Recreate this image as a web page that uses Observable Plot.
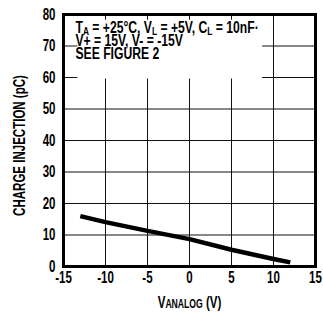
<!DOCTYPE html>
<html><head><meta charset="utf-8">
<script src="https://cdn.jsdelivr.net/npm/d3@7"></script>
<script src="https://cdn.jsdelivr.net/npm/@observablehq/plot@0.6"></script>
<style>
body{margin:0;background:#fff}
#chart svg{font-family:"Liberation Sans",Arial,sans-serif;font-weight:bold;overflow:visible}
</style>
</head><body><div id="chart"></div>
<script>
const vAnalog = [-13, -10, -5, 0, 5, 10, 12];
const chargeInjection = [16, 14.1, 11.3, 8.7, 5.3, 2.4, 1.3];
const xTicks = [-15, -10, -5, 0, 5, 10, 15];
const yTicks = [0, 10, 20, 30, 40, 50, 60, 70, 80];
const noteLines = ["TA = +25°C, VL = +5V, CL = 10nF·", "V+ = 15V, V- = -15V", "SEE FIGURE 2"];
const noteBox = [{x1: -13.3, x2: 8.7, y1: 59.5, y2: 78.2}];
const xLabel = "VANALOG (V)";
const yLabel = "CHARGE INJECTION (pC)";

const data = vAnalog.map((x, i) => ({x, y: chargeInjection[i]}));
const fmt = d => String(d);
const noteText = noteLines.join("\n");

const chart = Plot.plot({
  width: 323, height: 318,
  marginLeft: 63, marginRight: 8, marginTop: 14, marginBottom: 52,
  style: {fontSize: "16px", color: "#000", background: "#fff"},
  x: {domain: [-15, 15]},
  y: {domain: [0, 80]},
  marks: [
    Plot.gridX(xTicks, {stroke: "#111", strokeOpacity: 1, strokeWidth: 1}),
    Plot.gridY(yTicks, {stroke: "#111", strokeOpacity: 1, strokeWidth: 1}),
    Plot.rect(noteBox, {x1: "x1", x2: "x2", y1: "y1", y2: "y2", fill: "#fff"}),
    Plot.line(data, {x: "x", y: "y", stroke: "#000", strokeWidth: 4.5, strokeLinecap: "butt"}),
    Plot.frame({stroke: "#000", strokeWidth: 3}),
    Plot.text([noteText], {frameAnchor: "top-left", dx: 12, dy: 9, lineAnchor: "top", textAnchor: "start", lineHeight: 0.82, fontSize: 16, fill: "#000"}),
    Plot.axisX(xTicks, {tickSize: 0, tickPadding: 5, fontSize: 16, tickFormat: fmt, label: xLabel, labelAnchor: "center", labelArrow: "none", labelOffset: 41}),
    Plot.axisY(yTicks, {tickSize: 0, tickPadding: 8, fontSize: 16, tickFormat: fmt, label: yLabel, labelAnchor: "center", labelArrow: "none", labelOffset: 50})
  ]
});
document.getElementById("chart").appendChild(chart);

// mark the note, then add subscripts
const noteEls = new Set();
d3.select(chart).selectAll("text").each(function() {
  if (this.textContent.includes("SEE FIGURE")) noteEls.add(this);
});
d3.select(chart).selectAll("text tspan").each(function() {
  const t = this.textContent;
  if (/[TVC][AL] =/.test(t)) {
    this.innerHTML = t.replace(/([TVC])([AL]) =/g, '$1<tspan dy="2.5" font-size="11">$2</tspan><tspan dy="-2.5"> =</tspan>');
  }
});
// small caps in x label
d3.select(chart).selectAll("text").each(function() {
  if (this.textContent === xLabel) {
    this.innerHTML = 'V<tspan font-size="12">ANALOG</tspan> (V)';
  }
});
// condensed face: squeeze every text horizontally around its anchor
d3.select(chart).selectAll("text").each(function() {
  const s = noteEls.has(this) ? 0.76 : 0.72;
  let tr = this.getAttribute("transform");
  if (!tr) {
    const x = +this.getAttribute("x") || 0, y = +this.getAttribute("y") || 0;
    tr = `translate(${x},${y})`;
    this.setAttribute("x", 0); this.setAttribute("y", 0);
  }
  if (this.textContent === yLabel) tr = "translate(0,5) " + tr;
  this.setAttribute("transform", tr + ` scale(${s},1)`);
});
</script>
</body></html>
